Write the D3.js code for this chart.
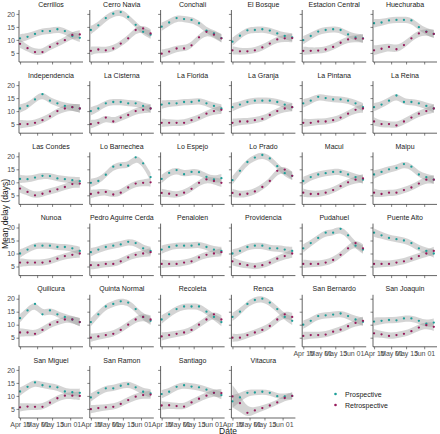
<!DOCTYPE html>
<html><head><meta charset="utf-8">
<script src="https://cdn.jsdelivr.net/npm/d3@7"></script>
<style>
html,body{margin:0;padding:0;background:#fff;}
svg{display:block;font-family:"Liberation Sans",Arial,sans-serif;}
</style></head>
<body><svg id="chart" width="440" height="434"></svg>
<script>
const districts = ["Cerrillos","Cerro Navia","Conchali","El Bosque","Estacion Central","Huechuraba",
 "Independencia","La Cisterna","La Florida","La Granja","La Pintana","La Reina",
 "Las Condes","Lo Barnechea","Lo Espejo","Lo Prado","Macul","Maipu",
 "Nunoa","Pedro Aguirre Cerda","Penalolen","Providencia","Pudahuel","Puente Alto",
 "Quilicura","Quinta Normal","Recoleta","Renca","San Bernardo","San Joaquin",
 "San Miguel","San Ramon","Santiago","Vitacura"];
const dates = ["2020-04-15","2020-04-22","2020-04-29","2020-05-06","2020-05-13","2020-05-20","2020-05-27","2020-06-03","2020-06-10"];
const prospective = [
 [10.6,11.2,12.3,13.4,13.4,14.1,13.4,11.5,10.8],
 [13.8,15.6,18.4,20.1,20.7,18.8,15.8,13.1,12.0],
 [15.1,16.7,18.4,18.0,17.7,16.4,13.6,12.5,10.7],
 [9.3,11.6,13.7,13.8,14.1,13.6,12.5,11.5,11.0],
 [9.9,11.5,13.2,13.8,14.1,13.8,12.1,11.0,10.6],
 [16.4,16.7,17.5,17.7,17.7,17.5,14.9,13.2,12.3],
 [11.0,12.0,14.5,16.5,14.0,13.0,12.0,11.5,11.0],
 [10.0,11.0,13.0,13.5,13.5,13.0,13.0,12.0,11.0],
 [12.5,13.0,13.0,13.5,13.5,14.0,13.0,12.0,11.0],
 [11.5,12.5,13.5,14.0,14.0,14.0,13.5,12.5,11.5],
 [13.0,14.0,15.5,15.0,14.5,14.5,14.0,13.0,11.5],
 [11.5,12.5,14.0,16.0,13.5,13.5,13.0,12.0,11.0],
 [11.3,11.2,11.8,12.5,12.4,11.5,11.2,10.8,10.4],
 [9.8,10.5,12.9,16.0,16.7,16.4,19.6,17.3,12.0],
 [11.3,13.6,14.7,13.1,14.0,13.9,12.1,11.1,11.6],
 [10.8,14.4,17.8,19.5,20.5,19.2,16.2,13.5,12.5],
 [10.5,12.0,13.0,13.5,14.0,14.0,13.0,12.0,11.0],
 [13.0,14.0,15.0,15.5,17.0,16.0,13.0,12.0,11.0],
 [10.0,11.5,13.0,13.0,13.0,12.5,12.5,12.0,11.0],
 [10.5,11.5,12.5,13.0,13.5,14.5,14.0,12.0,11.0],
 [11.5,12.5,13.0,13.0,13.0,13.5,12.5,11.5,11.0],
 [10.0,11.0,12.5,13.0,13.0,12.0,12.0,11.5,11.0],
 [12.0,14.0,16.0,18.0,18.0,19.5,17.0,13.0,11.5],
 [18.0,17.0,16.0,15.5,15.0,14.0,12.0,11.0,10.0],
 [12.5,15.5,18.0,14.0,15.5,14.0,13.0,12.0,11.0],
 [11.0,14.0,17.0,18.0,19.0,18.5,16.0,13.0,11.5],
 [12.0,14.0,16.0,17.0,17.0,17.0,15.0,13.0,11.0],
 [13.0,15.0,18.0,19.5,20.0,18.5,16.0,13.0,11.5],
 [10.0,11.5,13.3,13.6,13.9,14.3,13.3,12.0,11.1],
 [11.2,11.5,11.8,11.7,12.4,12.4,11.5,10.4,10.8],
 [11.7,13.5,15.2,14.1,13.6,13.3,11.7,11.4,11.2],
 [9.4,11.2,12.9,12.9,13.9,14.5,13.3,11.6,11.0],
 [10.7,11.6,13.5,14.1,13.6,13.3,12.4,11.2,10.3],
 [7.9,9.4,11.2,11.3,11.6,11.2,9.9,9.8,10.0]
];
const retrospective = [
 [8.5,6.8,5.3,5.3,7.3,8.6,9.9,11.9,12.1],
 [5.8,6.3,6.0,6.7,8.6,10.6,13.8,14.4,12.5],
 [4.7,5.5,6.7,6.7,7.9,11.0,13.1,12.0,10.6],
 [6.0,5.6,5.6,6.0,7.1,8.6,10.2,10.6,10.7],
 [5.8,5.8,5.9,6.3,7.3,8.9,10.2,10.5,10.5],
 [6.0,6.6,7.3,6.4,8.0,10.6,12.5,13.1,12.3],
 [5.0,5.0,5.5,6.5,8.0,10.0,11.0,11.5,11.0],
 [5.0,5.5,7.5,6.0,7.5,8.5,10.0,10.5,11.0],
 [5.5,5.5,5.5,5.5,6.5,7.5,9.0,10.0,10.5],
 [5.5,6.0,6.0,6.5,7.0,8.5,10.0,11.0,11.5],
 [5.5,5.5,6.0,6.0,6.5,7.5,9.0,10.5,11.0],
 [6.0,5.0,5.0,4.5,6.0,7.5,9.0,10.0,11.0],
 [7.6,6.3,5.0,5.6,6.5,7.3,8.2,9.3,9.5],
 [5.5,6.0,6.3,5.3,6.0,8.0,9.5,9.8,10.0],
 [5.9,5.6,5.1,6.0,7.5,9.8,11.1,10.5,9.8],
 [5.9,5.3,5.6,6.5,8.2,10.5,14.4,14.9,12.5],
 [6.0,5.5,5.5,6.0,7.0,8.5,10.0,11.0,11.5],
 [6.0,5.5,6.0,6.0,7.0,8.0,9.5,11.0,11.0],
 [6.5,6.5,6.5,6.5,7.0,8.0,9.0,9.5,10.0],
 [5.5,5.5,6.0,6.0,7.0,8.5,9.5,10.0,10.5],
 [6.0,6.0,6.0,6.5,7.0,8.5,9.5,10.0,10.5],
 [7.0,6.0,5.5,5.0,5.5,6.5,8.0,9.0,10.0],
 [6.0,6.0,6.0,6.5,7.5,9.5,12.0,14.0,12.0],
 [6.0,6.0,6.0,6.5,7.0,8.0,9.0,10.0,11.0],
 [7.0,7.0,6.5,8.0,10.0,11.0,12.0,12.0,11.0],
 [5.0,5.5,6.0,6.5,8.0,10.0,12.0,13.0,12.0],
 [5.5,6.0,6.5,7.0,8.0,10.0,12.0,14.0,12.0],
 [5.0,5.0,6.0,7.0,8.0,9.5,12.0,14.0,13.0],
 [5.7,6.0,6.0,6.2,7.3,8.1,9.4,10.7,11.5],
 [6.7,6.3,5.7,6.0,6.5,7.5,8.9,9.8,9.2],
 [5.6,5.9,5.8,5.8,7.4,9.1,10.1,10.1,10.0],
 [4.9,5.3,5.6,5.8,6.9,8.4,9.7,10.3,10.5],
 [6.3,6.4,6.1,5.9,7.5,8.9,10.1,11.2,11.1],
 [9.8,7.2,3.5,4.4,5.3,6.3,7.5,9.2,10.0]
];
// confidence band half-widths (days) read from the grey ribbons
const ciTypical = [1.6,1.3,1.2,1.2,1.2,1.2,1.2,1.3,1.6];
const ciOverrides = {
 "Vitacura|Prospective": [2.4,1.7,1.3,1.1,1.0,1.0,1.0,1.1,1.3],
 "Vitacura|Retrospective": [4.3,3.2,1.9,1.3,1.1,1.0,1.0,1.1,1.4],
 "Huechuraba|Retrospective": [1.9,1.6,1.5,1.4,1.3,1.2,1.2,1.2,1.5]
};
const yTicks = [5,10,15,20];
const xTicks = ["2020-04-15","2020-05-01","2020-05-15","2020-06-01"];
const seriesNames = ["Prospective","Retrospective"];
const seriesColors = ["#1c9e98","#96195b"];

const svg = d3.select("#chart");
const colX0 = 19, colPitch = 70.8, panelW = 64;
const axisY0 = 62, rowPitch = 71.2, panelH = 52;
const parse = d3.timeParse("%Y-%m-%d");
const x = d3.scaleTime().domain([parse("2020-04-14"), parse("2020-06-13")]).range([0, panelW]);
const y = d3.scaleLinear().domain([1.5, 21.5]).range([panelH, 0]);
const nCols = 6, n = districts.length;
const font = '"Liberation Sans",Arial,sans-serif';

districts.forEach((name, i) => {
  const row = Math.floor(i / nCols), col = i % nCols;
  const gx = colX0 + col * colPitch;
  const gy = axisY0 + row * rowPitch - panelH;
  const g = svg.append("g").attr("transform", `translate(${gx},${gy})`);
  g.append("text").attr("x", panelW / 2).attr("y", -3.5).attr("text-anchor", "middle")
    .attr("font-size", 7).attr("fill", "#1a1a1a").text(name);
  [prospective[i], retrospective[i]].forEach((vals, s) => {
    const key = name + "|" + seriesNames[s];
    const ci = ciOverrides[key] || ciTypical;
    const pts = vals.map((v, k) => ({d: parse(dates[k]), v, w: ci[k]}));
    const area = d3.area().curve(d3.curveBasis)
      .x(p => x(p.d)).y0(p => y(p.v - p.w)).y1(p => y(p.v + p.w));
    g.append("path").datum(pts).attr("d", area).attr("fill", "#999").attr("fill-opacity", 0.42);
  });
  [prospective[i], retrospective[i]].forEach((vals, s) => {
    g.selectAll(null).data(vals).enter().append("circle")
      .attr("cx", (v, k) => x(parse(dates[k]))).attr("cy", v => y(v))
      .attr("r", 1.15).attr("fill", seriesColors[s]);
  });
  const showX = i + nCols >= n;
  const yAxis = d3.axisLeft(y).tickValues(yTicks).tickSize(2.5).tickPadding(1.5)
    .tickFormat(col === 0 ? d3.format("d") : () => "");
  const ya = g.append("g").call(yAxis);
  const xAxis = d3.axisBottom(x).tickValues(xTicks.map(parse)).tickSize(2.5).tickPadding(1.5)
    .tickFormat(showX ? d3.timeFormat("%b %d") : () => "");
  const xa = g.append("g").attr("transform", `translate(0,${panelH})`).call(xAxis);
  [ya, xa].forEach(a => {
    a.select(".domain").attr("stroke", "#222").attr("stroke-width", 0.7);
    a.selectAll(".tick line").attr("stroke", "#333").attr("stroke-width", 0.6);
    a.selectAll(".tick text").attr("font-size", 7).attr("fill", "#4d4d4d").attr("font-family", font);
  });
  ya.select(".domain").attr("d", `M0,0V${panelH}`);
  xa.select(".domain").attr("d", `M0,0H${panelW}`);
});

svg.append("text").attr("x", colX0 + (5 * colPitch + panelW) / 2).attr("y", 433.5)
  .attr("text-anchor", "middle").attr("font-size", 8.5).attr("fill", "#1a1a1a").text("Date");
svg.append("text").attr("transform", `translate(7.5,${axisY0 - panelH + (5 * rowPitch + panelH) / 2}) rotate(-90)`)
  .attr("text-anchor", "middle").attr("font-size", 8.5).attr("fill", "#1a1a1a").text("Mean delay (days)");

const lg = svg.append("g").attr("transform", "translate(335.5,394)");
seriesNames.forEach((s, k) => {
  lg.append("circle").attr("cx", 0).attr("cy", k * 11).attr("r", 1.3).attr("fill", seriesColors[k]);
  lg.append("text").attr("x", 9.5).attr("y", k * 11 + 2.5).attr("font-size", 7).attr("fill", "#1a1a1a").text(s);
});
</script></body></html>
